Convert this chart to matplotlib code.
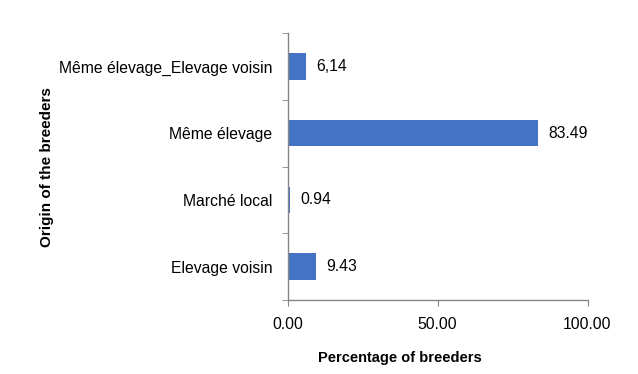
import matplotlib
matplotlib.use("Agg")
import matplotlib.pyplot as plt

categories = ["Elevage voisin", "Marché local", "Même élevage", "Même élevage_Elevage voisin"]
values = [9.43, 0.94, 83.49, 6.14]
value_labels = ["9.43", "0.94", "83.49", "6,14"]
xticks = [0, 50, 100]
xtick_labels = ["0.00", "50.00", "100.00"]

plt.rcParams['font.family'] = ['Liberation Sans', 'DejaVu Sans']
txt = '#000000'
axc = '#868686'
fs = 11.3

fig = plt.figure(figsize=(6.38, 3.74), dpi=100)
ax = fig.add_axes([287.5/638, 74/374, 300/638, 267/374])

ypos = list(range(len(categories)))
ax.barh(ypos, values, height=0.4, color='#4472C4')
ax.set_xlim(0, 100)
ax.set_ylim(-0.5, len(categories) - 0.5)

for y, v, lab in zip(ypos, values, value_labels):
    ax.annotate(lab, xy=(v, y), xytext=(7.5, 0), textcoords='offset points',
                va='center', ha='left', fontsize=fs, color=txt)

ax.set_xticks(xticks)
ax.set_xticklabels(xtick_labels, fontsize=fs, color=txt)
ax.set_yticks(ypos)
ax.set_yticklabels(categories, fontsize=fs, color=txt)
ax.tick_params(axis='y', length=0, pad=11)
ax.tick_params(axis='x', length=4, color=axc, pad=8)
ax.set_yticks([-0.5, 0.5, 1.5, 2.5, 3.5], minor=True)
ax.tick_params(axis='y', which='minor', length=4, color=axc)

for s in ['top', 'right']:
    ax.spines[s].set_visible(False)
for s in ['left', 'bottom']:
    ax.spines[s].set_color(axc)
    ax.spines[s].set_linewidth(1)

fig.text(400/638, 1 - 358/374, "Percentage of breeders", ha='center', va='center',
         fontsize=10.5, fontweight='bold', color=txt)
fig.text(47/638, 1 - 167/374, "Origin of the breeders", ha='center', va='center',
         rotation=90, fontsize=11, fontweight='bold', color=txt)

fig.savefig("out.png", dpi=100)
